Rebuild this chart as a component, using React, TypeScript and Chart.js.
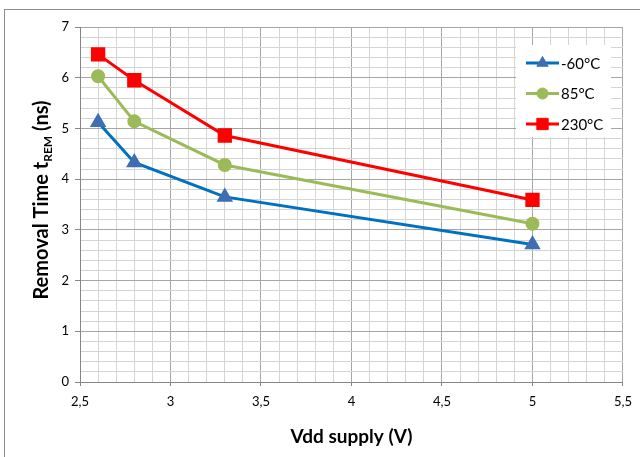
import React, { useEffect, useRef } from "react";
import { Chart, registerables } from "chart.js";
import { drawPoint } from "chart.js/helpers";
Chart.register(...registerables);

const vdd = [2.6, 2.8, 3.3, 5.0];
const seriesLabels = ["-60°C", "85°C", "230°C"];
const tMinus60 = [5.12, 4.33, 3.65, 2.71];
const t85 = [6.03, 5.14, 4.28, 3.12];
const t230 = [6.46, 5.95, 4.86, 3.59];
const xTitle = "Vdd supply (V)";
const yTitleMain = "Removal Time t";
const yTitleSub = "REM";
const yTitleEnd = " (ns)";

const FONT = "Lato, 'Open Sans', sans-serif";

const styles = [
  { line: "#0070C0", fill: "#3F6EB3", point: "triangle", radius: 6.5 },
  { line: "#9BBB59", fill: "#9BBB59", point: "circle", radius: 5.5 },
  { line: "#FF0000", fill: "#FF0000", point: "rect", radius: 8 },
];

const seriesValues = [tMinus60, t85, t230];

const decorPlugin = {
  id: "decor",
  beforeDraw(chart: any) {
    const ctx = chart.ctx;
    ctx.save();
    ctx.fillStyle = "#fff";
    ctx.fillRect(0, 0, chart.width, chart.height);
    ctx.strokeStyle = "#8c8c8c";
    ctx.lineWidth = 1;
    ctx.strokeRect(4.5, 9.5, 800, 600);
    ctx.restore();
  },
  afterDraw(chart: any) {
    const ctx = chart.ctx;
    ctx.save();
    // x title
    ctx.fillStyle = "#000";
    ctx.font = `bold 19px ${FONT}`;
    ctx.textAlign = "center";
    ctx.textBaseline = "alphabetic";
    ctx.fillText(xTitle, (chart.chartArea.left + chart.chartArea.right) / 2, 443);
    // y title
    ctx.translate(48, 200);
    ctx.rotate(-Math.PI / 2);
    ctx.textAlign = "left";
    const mainFont = `bold 20px ${FONT}`;
    const subFont = `bold 12px ${FONT}`;
    ctx.font = mainFont;
    const w1 = ctx.measureText(yTitleMain).width;
    const w3 = ctx.measureText(yTitleEnd).width;
    ctx.font = subFont;
    const w2 = ctx.measureText(yTitleSub).width;
    let x = -(w1 + w2 + w3) / 2;
    ctx.font = mainFont;
    ctx.fillText(yTitleMain, x, 0);
    x += w1;
    ctx.font = subFont;
    ctx.fillText(yTitleSub, x, 4);
    x += w2;
    ctx.font = mainFont;
    ctx.fillText(yTitleEnd, x, 0);
    ctx.restore();

    // legend
    ctx.save();
    ctx.fillStyle = "#fff";
    ctx.fillRect(516, 45, 95, 92);
    const rowsY = [63, 93.5, 124];
    chart.data.datasets.forEach((ds: any, i: number) => {
      const y = rowsY[i];
      ctx.strokeStyle = ds.borderColor;
      ctx.lineWidth = 3;
      ctx.beginPath();
      ctx.moveTo(526, y);
      ctx.lineTo(559, y);
      ctx.stroke();
      ctx.fillStyle = ds.pointBackgroundColor;
      ctx.strokeStyle = ds.pointBorderColor;
      ctx.lineWidth = 1;
      drawPoint(ctx, { pointStyle: ds.pointStyle, radius: ds.pointRadius, rotation: 0, borderWidth: 1 } as any, 542.5, y);
      ctx.fillStyle = "#000";
      ctx.font = `15px ${FONT}`;
      ctx.textAlign = "left";
      ctx.textBaseline = "middle";
      ctx.fillText(ds.label, 561, y + 1);
    });
    ctx.restore();
  },
};

function isMultiple(v: number, step: number) {
  const r = Math.round(v * 10);
  return r % step === 0;
}

export default function App() {
  const ref = useRef<HTMLCanvasElement>(null);
  useEffect(() => {
    document.body.style.margin = "0";
    const datasets = seriesLabels.map((label, i) => ({
      label,
      data: vdd.map((x, j) => ({ x, y: seriesValues[i][j] })),
      borderColor: styles[i].line,
      backgroundColor: styles[i].fill,
      pointBackgroundColor: styles[i].fill,
      pointBorderColor: styles[i].fill,
      pointStyle: styles[i].point,
      pointRadius: styles[i].radius,
      borderWidth: 3,
      tension: 0,
      fill: false,
    }));
    const chart = new Chart(ref.current!, {
      type: "line",
      data: { datasets: datasets as any },
      options: {
        responsive: false,
        animation: false,
        layout: { padding: { left: 0, right: 16, top: 27, bottom: 0 } },
        plugins: { legend: { display: false }, tooltip: { enabled: false } },
        scales: {
          x: {
            type: "linear",
            min: 2.5,
            max: 5.5,
            afterFit: (s: any) => { s.height = 75; },
            border: { color: "#868686", width: 1 },
            grid: {
              color: (c: any) => (isMultiple(c.tick.value, 5) ? "#a6a6a6" : "#d4d4d4"),
              tickColor: (c: any) => (isMultiple(c.tick.value, 5) ? "#868686" : "rgba(0,0,0,0)"),
              tickLength: 4,
              lineWidth: 1,
            },
            ticks: {
              stepSize: 0.1,
              autoSkip: false,
              maxRotation: 0,
              padding: 8,
              color: "#000",
              font: { family: FONT, size: 13 },
              callback: (v: any) => {
                const n = Number(v);
                if (!isMultiple(n, 5)) return "";
                return String(Math.round(n * 10) / 10).replace(".", ",");
              },
            },
          },
          y: {
            type: "linear",
            min: 0,
            max: 7,
            afterFit: (s: any) => { s.width = 80; },
            border: { color: "#868686", width: 1 },
            grid: {
              color: (c: any) => (isMultiple(c.tick.value, 10) ? "#a6a6a6" : "#d4d4d4"),
              tickColor: (c: any) => (isMultiple(c.tick.value, 10) ? "#868686" : "rgba(0,0,0,0)"),
              tickLength: 5,
              lineWidth: 1,
            },
            ticks: {
              stepSize: 0.2,
              autoSkip: false,
              padding: 6,
              color: "#000",
              font: { family: FONT, size: 13 },
              callback: (v: any) => {
                const n = Number(v);
                if (!isMultiple(n, 10)) return "";
                return String(Math.round(n));
              },
            },
          },
        },
      },
      plugins: [decorPlugin],
    });
    return () => chart.destroy();
  }, []);
  return <canvas ref={ref} width={640} height={457} style={{ display: "block" }} />;
}
